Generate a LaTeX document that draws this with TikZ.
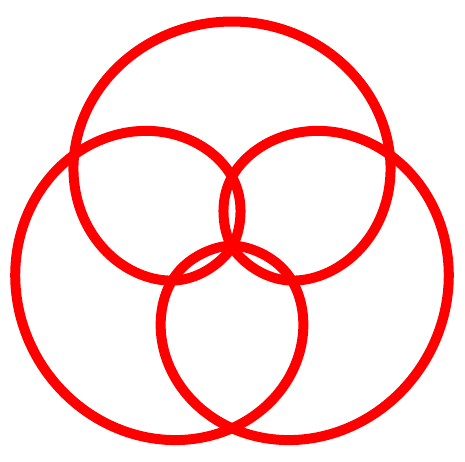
\documentclass[tikz,border=0pt]{standalone}
\begin{document}
\begin{tikzpicture}[x=1pt,y=1pt,
  declare function={sv(\t)=(1+sin(\t))/2;
    rr(\t)=224.5*sv(\t)*(1+0.33*(1-sv(\t)))*(1-exp(-min((sv(\t)/0.12)^2,9)));}]
\useasboundingbox (0,0) rectangle (465,462);
\tikzset{lobe/.style={draw=red, line width=10pt, line cap=round, line join=round}}
\coordinate (O) at (232,216);
\foreach \a in {0,120,240}{
  \draw[lobe, shift={(O)}, rotate=\a] plot[domain=-90:270, samples=721, variable=\t]
    ({rr(\t)*cos(\t)}, {rr(\t)*sin(\t)});
}
\end{tikzpicture}
\end{document}
